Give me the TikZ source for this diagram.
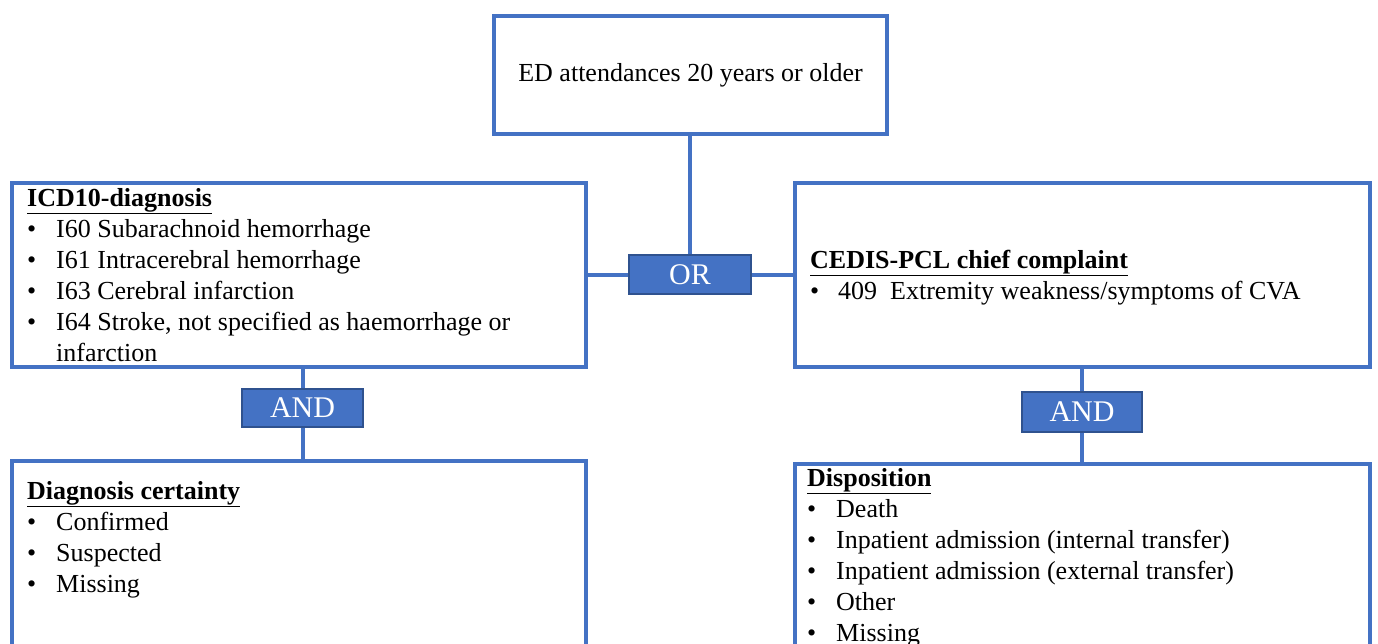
\documentclass[tikz,border=0pt]{standalone}
\usepackage{fontspec}
\setmainfont{Liberation Serif}
\definecolor{boxblue}{HTML}{4472C4}
\definecolor{edgeblue}{HTML}{2F528F}
\newcommand{\bitem}[2][29pt]{\makebox[#1][l]{\textbullet}#2}
\tikzset{
    framebox/.style={draw=boxblue, line width=4pt, inner sep=0pt, fill=white},
    gatebox/.style={draw=edgeblue, line width=1.2pt, fill=boxblue, text=white,
        inner sep=0pt, font=\fontsize{30}{34}\selectfont},
    boxtext/.style={anchor=base west, inner sep=0pt, font=\fontsize{26}{31}\selectfont},
    link/.style={draw=boxblue, line width=4pt}
}
\begin{document}
\begin{tikzpicture}[x=1pt, y=-1pt]
    \clip (0,0) rectangle (1378,643);
    \fill[white] (0,0) rectangle (1378,643);

    % frames
    \node[framebox, minimum width=393pt, minimum height=118pt] (edbox) at (690.5,75)
        {\fontsize{26}{31}\selectfont ED attendances 20 years or older};
    \node[framebox, minimum width=574pt, minimum height=184pt] (icdbox) at (299,275) {};
    \node[framebox, minimum width=575pt, minimum height=184pt] (cedisbox) at (1082.5,275) {};
    \node[framebox, minimum width=574pt, minimum height=259pt] (certbox) at (299,590.5) {};
    \node[framebox, minimum width=575pt, minimum height=256pt] (dispbox) at (1082.5,592) {};

    % gates
    \node[gatebox, minimum width=122pt, minimum height=39pt] (ornode) at (690,274.5) {OR};
    \node[gatebox, minimum width=121pt, minimum height=38pt] (andleft) at (302.5,408) {AND};
    \node[gatebox, minimum width=120pt, minimum height=40pt] (andright) at (1082,412) {AND};

    % links
    \draw[link] (edbox.south -| ornode.north) -- (ornode.north);
    \draw[link] (ornode.west) -- (ornode.west -| icdbox.east);
    \draw[link] (ornode.east) -- (ornode.east -| cedisbox.west);
    \draw[link] (andleft.north |- icdbox.south) -- (andleft.north);
    \draw[link] (andleft.south) -- (andleft.south |- certbox.north);
    \draw[link] (andright.north |- cedisbox.south) -- (andright.north);
    \draw[link] (andright.south) -- (andright.south |- dispbox.north);

    % contents
    \node[boxtext] (icdtext) at (27,206) {\begin{tabular}[t]{@{}l@{}}
        \underline{\textbf{ICD10-diagnosis}}\\
        \bitem{I60 Subarachnoid hemorrhage}\\
        \bitem{I61 Intracerebral hemorrhage}\\
        \bitem{I63 Cerebral infarction}\\
        \bitem{I64 Stroke, not specified as haemorrhage or}\\
        \hspace*{29pt}infarction
    \end{tabular}};
    \node[boxtext] (cedistext) at (810,268) {\begin{tabular}[t]{@{}l@{}}
        \underline{\textbf{CEDIS-PCL chief complaint}}\\
        \bitem[28pt]{409\ \ Extremity weakness/symptoms of CVA}
    \end{tabular}};
    \node[boxtext] (certtext) at (27,499) {\begin{tabular}[t]{@{}l@{}}
        \underline{\textbf{Diagnosis certainty}}\\
        \bitem{Confirmed}\\
        \bitem{Suspected}\\
        \bitem{Missing}
    \end{tabular}};
    \node[boxtext] (disptext) at (807,486) {\begin{tabular}[t]{@{}l@{}}
        \underline{\textbf{Disposition}}\\
        \bitem{Death}\\
        \bitem{Inpatient admission (internal transfer)}\\
        \bitem{Inpatient admission (external transfer)}\\
        \bitem{Other}\\
        \bitem{Missing}
    \end{tabular}};
\end{tikzpicture}
\end{document}
